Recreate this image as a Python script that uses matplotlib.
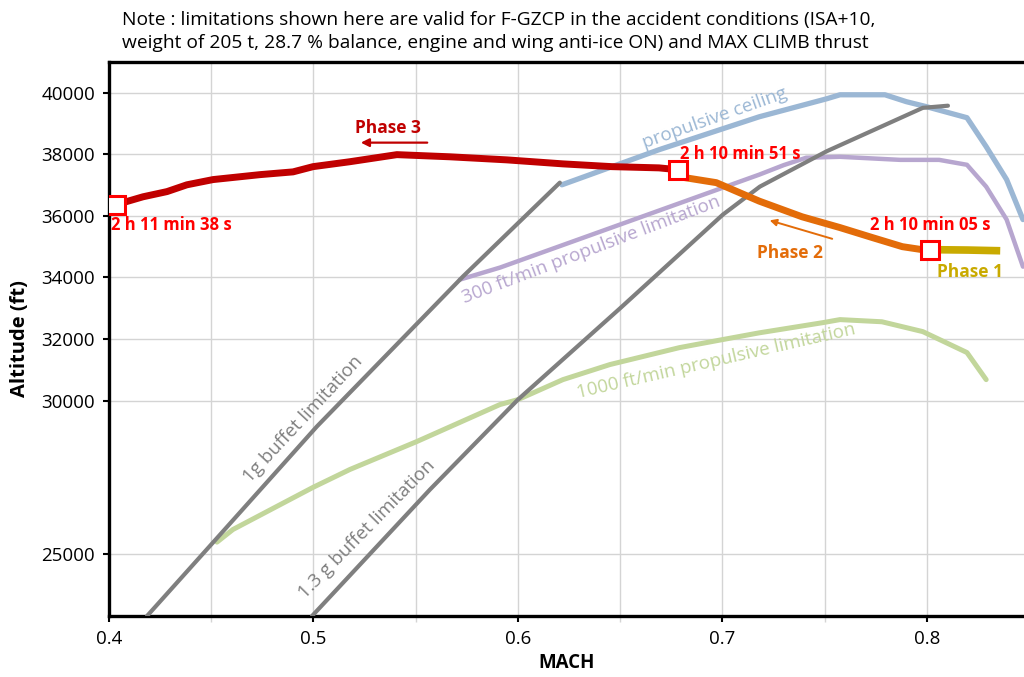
import matplotlib
matplotlib.use("Agg")
import matplotlib.pyplot as plt
from matplotlib.ticker import MultipleLocator

plt.rcParams["font.family"] = ["Open Sans", "DejaVu Sans"]

# limitation curves (MACH, altitude ft)
ceil_mach = [0.6215, 0.669, 0.718, 0.751, 0.7575, 0.7795, 0.790, 0.800, 0.8196, 0.829, 0.839, 0.847]
ceil_alt = [37010, 38150, 39220, 39805, 39935, 39935, 39710, 39545, 39190, 38250, 37180, 35880]

buf1_mach = [0.4186, 0.4509, 0.5017, 0.5731, 0.6205]
buf1_alt = [23000, 25390, 29160, 34030, 37080]

buf13_mach = [0.4993, 0.557, 0.600, 0.650, 0.7002, 0.7183, 0.751, 0.798, 0.8103]
buf13_alt = [23000, 27110, 30030, 33000, 36040, 36950, 38100, 39510, 39580]

r300_mach = [0.5716, 0.5912, 0.718, 0.730, 0.741, 0.7575, 0.787, 0.806, 0.8196, 0.829, 0.839, 0.847]
r300_alt = [33930, 34320, 37340, 37650, 37890, 37920, 37820, 37820, 37660, 36950, 35880, 34350]

r1000_mach = [0.4528, 0.4606, 0.4998, 0.5178, 0.5506, 0.5912, 0.600, 0.622, 0.645, 0.679, 0.700,
              0.718, 0.749, 0.7575, 0.778, 0.798, 0.8196, 0.829]
r1000_alt = [25400, 25810, 27180, 27760, 28670, 29870, 30030, 30680, 31170, 31720, 31980,
             32200, 32530, 32630, 32560, 32240, 31560, 30680]

# flight path
ph1_mach = [0.8015, 0.806, 0.820, 0.834]
ph1_alt = [34900, 34900, 34890, 34870]

ph2_mach = [0.6782, 0.680, 0.697, 0.718, 0.739, 0.7575, 0.7736, 0.788, 0.798, 0.8015]
ph2_alt = [37500, 37260, 37080, 36480, 35970, 35620, 35290, 35000, 34900, 34900]

ph3_mach = [0.6782, 0.669, 0.646, 0.622, 0.5946, 0.5667, 0.5408, 0.5178, 0.4998, 0.490,
            0.4738, 0.4509, 0.4381, 0.4284, 0.4166, 0.4068, 0.4035]
ph3_alt = [37500, 37560, 37600, 37690, 37820, 37920, 37990, 37760, 37600, 37430,
           37340, 37180, 37010, 36790, 36620, 36430, 36360]

event_mach = [0.4035, 0.6782, 0.8015]
event_alt = [36360, 37500, 34900]
event_text = ["2 h 11 min 38 s", "2 h 10 min 51 s", "2 h 10 min 05 s"]

yticks = [25000, 30000, 32000, 34000, 36000, 38000, 40000]
xticks = [0.4, 0.5, 0.6, 0.7, 0.8]

GRAY = "#7f7f7f"
BLUE = "#9bb7d4"
PURPLE = "#b7a6cf"
GREEN = "#c2d69b"
DARKRED = "#c00000"
ORANGE = "#e36c09"
OLIVE = "#c9aa00"
RED = "#ff0000"

fig = plt.figure(figsize=(10.24, 6.77), dpi=100)
ax = fig.add_axes([109 / 1024, 61 / 677, 1 - 109 / 1024, (616 - 62) / 677])

ax.plot(r1000_mach, r1000_alt, color=GREEN, lw=3.6, solid_capstyle="round", zorder=2)
ax.plot(r300_mach, r300_alt, color=PURPLE, lw=3.2, solid_capstyle="round", zorder=2)
ax.plot(ceil_mach, ceil_alt, color=BLUE, lw=3.8, solid_capstyle="round", zorder=2)
ax.plot(buf1_mach, buf1_alt, color=GRAY, lw=3.0, solid_capstyle="round", zorder=3)
ax.plot(buf13_mach, buf13_alt, color=GRAY, lw=3.0, solid_capstyle="round", zorder=3)

ax.plot(ph1_mach, ph1_alt, color=OLIVE, lw=5.5, zorder=4)
ax.plot(ph2_mach, ph2_alt, color=ORANGE, lw=5.0, solid_capstyle="round", zorder=4)
ax.plot(ph3_mach, ph3_alt, color=DARKRED, lw=5.0, solid_capstyle="round", zorder=5)
ax.plot(event_mach, event_alt, ls="none", marker="s", ms=13, mfc="white", mec=RED,
        mew=2.2, zorder=6)

# curve labels
lbl = dict(fontsize=13.5, ha="center", va="center", rotation_mode="anchor")
ax.text(0.6963, 39190, "propulsive ceiling", color=BLUE, rotation=19.5, **lbl)
ax.text(0.6357, 34900, "300 ft/min propulsive limitation", color=PURPLE, rotation=20.8, **lbl)
ax.text(0.6968, 31290, "1000 ft/min propulsive limitation", color=GREEN, rotation=13, **lbl)
ax.text(0.4949, 29380, "1g buffet limitation", color=GRAY, rotation=47, **lbl)
ax.text(0.5262, 25810, "1.3 g buffet limitation", color=GRAY, rotation=45.5, **lbl)

# event times
ev = dict(color=RED, fontsize=12, fontweight="bold", ha="center", va="center")
ax.text(0.4305, 35700, event_text[0], **ev)
ax.text(0.7086, 38020, event_text[1], **ev)
ax.text(0.8015, 35710, event_text[2], **ev)

# phase labels and arrows
ax.text(0.5364, 38860, "Phase 3", color=DARKRED, fontsize=12.5, fontweight="bold",
        ha="center", va="center")
ax.annotate("", xy=(0.5218, 38380), xytext=(0.557, 38380),
            arrowprops=dict(arrowstyle="-|>", color=DARKRED, lw=1.6, mutation_scale=12))
ax.text(0.733, 34800, "Phase 2", color=ORANGE, fontsize=12.5, fontweight="bold",
        ha="center", va="center")
ax.annotate("", xy=(0.7218, 35880), xytext=(0.755, 35230),
            arrowprops=dict(arrowstyle="-|>", color=ORANGE, lw=1.4, mutation_scale=10))
ax.text(0.821, 34190, "Phase 1", color=OLIVE, fontsize=12.5, fontweight="bold",
        ha="center", va="center")

ax.set_xlim(0.4, 0.8475)
ax.set_ylim(23000, 41000)
ax.set_xticks(xticks)
ax.set_xticklabels([f"{v:.1f}" for v in xticks])
ax.xaxis.set_minor_locator(MultipleLocator(0.05))
ax.set_yticks(yticks)
ax.set_yticklabels([str(v) for v in yticks])
ax.grid(True, which="both", axis="x", color="#d4d4d4", lw=1.0, zorder=0)
ax.grid(True, which="major", axis="y", color="#d4d4d4", lw=1.0, zorder=0)
ax.set_axisbelow(True)
ax.tick_params(axis="both", which="major", labelsize=13.5, length=4, width=1.5, color="black")
ax.tick_params(axis="x", which="minor", length=4, width=1, color="#d4d4d4")
ax.tick_params(axis="x", which="major", pad=6)
ax.tick_params(axis="y", which="major", pad=6)

for side in ["left", "top", "bottom"]:
    ax.spines[side].set_linewidth(2.4)
    ax.spines[side].set_color("black")
ax.spines["right"].set_visible(False)

ax.set_xlabel("MACH", fontsize=13.5, fontweight="bold", labelpad=4)
ax.set_ylabel("Altitude (ft)", fontsize=14.5, fontweight="bold", labelpad=8)

fig.text(122 / 1024, 1 - 20 / 677,
         "Note : limitations shown here are valid for F-GZCP in the accident conditions (ISA+10,",
         fontsize=13.8, ha="left", va="center")
fig.text(122 / 1024, 1 - 43 / 677,
         "weight of 205 t, 28.7 % balance, engine and wing anti-ice ON) and MAX CLIMB thrust",
         fontsize=13.8, ha="left", va="center")

fig.savefig("out.png", dpi=100)
